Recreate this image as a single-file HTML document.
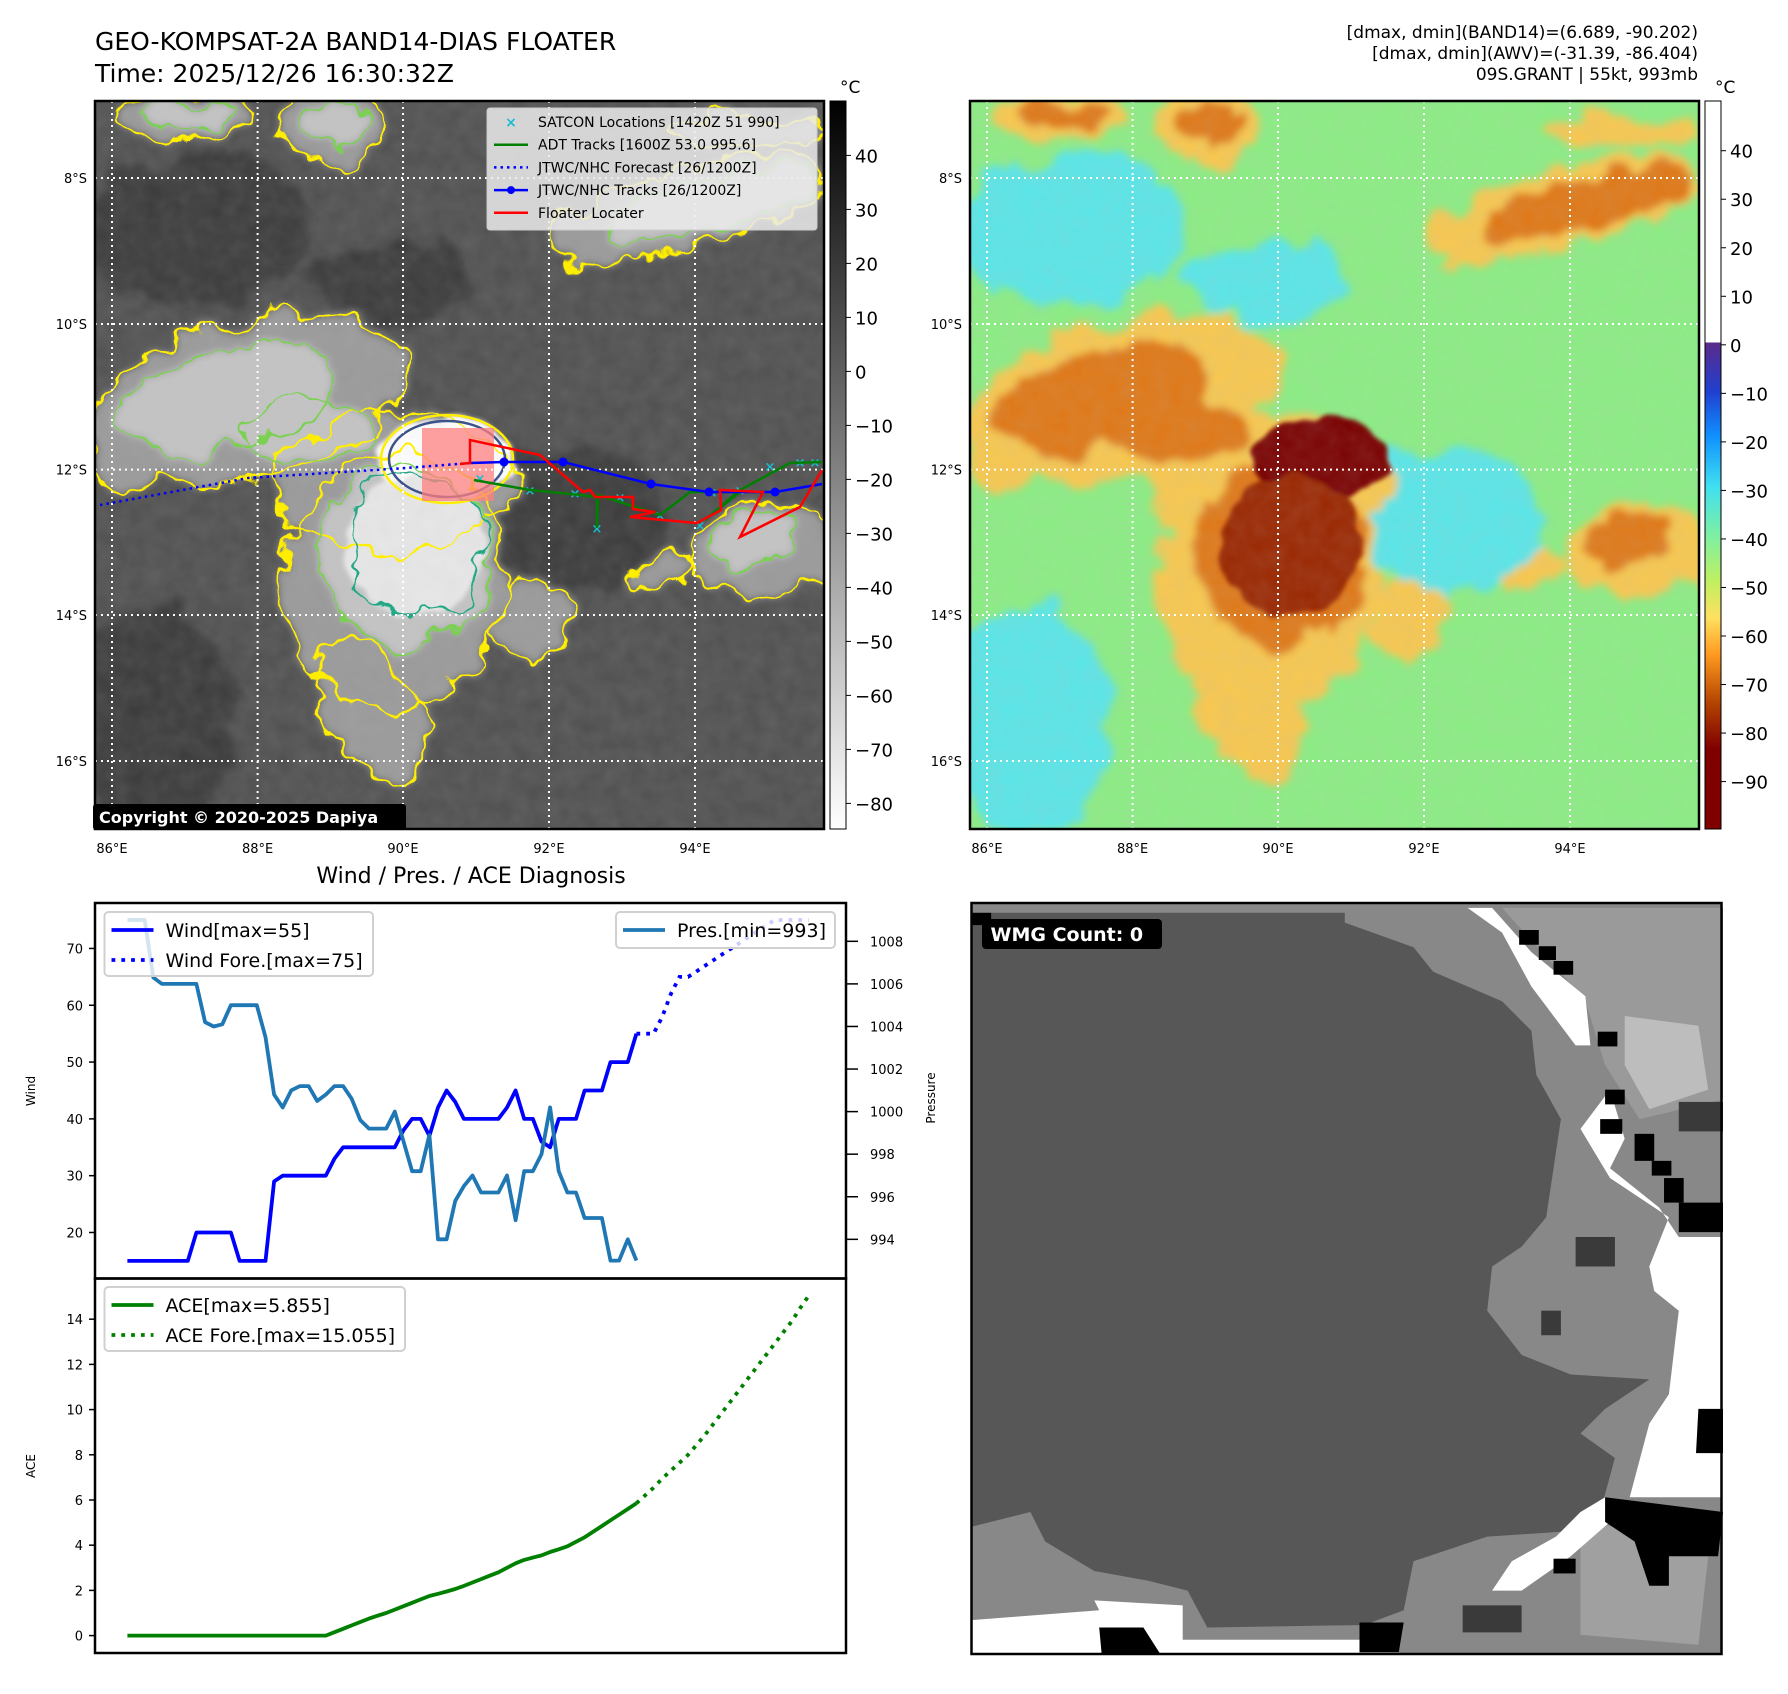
<!DOCTYPE html>
<html><head><meta charset="utf-8">
<style>
html,body{margin:0;padding:0;background:#fff;}
body{width:1788px;height:1690px;position:relative;overflow:hidden;font-family:"DejaVu Sans","Liberation Sans",sans-serif;}
svg text{font-family:"DejaVu Sans","Liberation Sans",sans-serif;}
</style></head>
<body>
<svg id="root" width="1788" height="1690" viewBox="0 0 1788 1690" xmlns="http://www.w3.org/2000/svg">
<defs>
 <linearGradient id="gGray" x1="0" y1="0" x2="0" y2="1">
  <stop offset="0" stop-color="#000"/><stop offset="1" stop-color="#fff"/>
 </linearGradient>
 <linearGradient id="gColor" x1="0" y1="0" x2="0" y2="1">
  <stop offset="0" stop-color="#fff"/><stop offset="0.3316" stop-color="#fff"/>
  <stop offset="0.3317" stop-color="#5a2a8a"/><stop offset="0.40" stop-color="#2040d0"/>
  <stop offset="0.46" stop-color="#1090ff"/><stop offset="0.53" stop-color="#40e0f0"/>
  <stop offset="0.60" stop-color="#80f0a0"/><stop offset="0.66" stop-color="#c0f060"/>
  <stop offset="0.71" stop-color="#ffe060"/><stop offset="0.76" stop-color="#ff9a20"/>
  <stop offset="0.83" stop-color="#b04000"/><stop offset="0.89" stop-color="#800000"/>
  <stop offset="1" stop-color="#800000"/>
 </linearGradient>
 <filter id="soft" x="-20%" y="-20%" width="140%" height="140%">
  <feTurbulence type="fractalNoise" baseFrequency="0.025" numOctaves="3" seed="5" result="n"/>
  <feDisplacementMap in="SourceGraphic" in2="n" scale="45" xChannelSelector="R" yChannelSelector="G" result="d"/>
  <feGaussianBlur in="d" stdDeviation="4"/>
 </filter>
 <filter id="soft2" x="-20%" y="-20%" width="140%" height="140%">
  <feTurbulence type="fractalNoise" baseFrequency="0.03" numOctaves="2" seed="8" result="n"/>
  <feDisplacementMap in="SourceGraphic" in2="n" scale="25" xChannelSelector="R" yChannelSelector="G" result="d"/>
  <feGaussianBlur in="d" stdDeviation="2"/>
 </filter>
 <filter id="warp" x="-20%" y="-20%" width="140%" height="140%">
  <feTurbulence type="fractalNoise" baseFrequency="0.025" numOctaves="3" seed="5" result="n"/>
  <feDisplacementMap in="SourceGraphic" in2="n" scale="45" xChannelSelector="R" yChannelSelector="G"/>
 </filter>
 <filter id="grain"><feTurbulence type="fractalNoise" baseFrequency="0.06" numOctaves="2" seed="3"/><feColorMatrix type="matrix" values="0 0 0 0 0.5  0 0 0 0 0.5  0 0 0 0 0.5  0 0 0 0.3 0"/></filter>
 <clipPath id="clipL"><rect x="0" y="0" width="729" height="728"/></clipPath>
</defs>

<text x="95" y="50" font-size="25">GEO-KOMPSAT-2A BAND14-DIAS FLOATER</text>
<text x="95" y="82" font-size="25">Time: 2025/12/26 16:30:32Z</text>
<text x="1698" y="38" font-size="17" text-anchor="end">[dmax, dmin](BAND14)=(6.689, -90.202)</text>
<text x="1698" y="59" font-size="17" text-anchor="end">[dmax, dmin](AWV)=(-31.39, -86.404)</text>
<text x="1698" y="80" font-size="17" text-anchor="end">09S.GRANT | 55kt, 993mb</text>

<g id="mapL" transform="translate(95,101)"></g>
<g id="mapR" transform="translate(970,101)"></g>

<g>
 <rect x="830" y="101" width="16" height="728" fill="url(#gGray)" stroke="#000" stroke-width="1"/>
 <text x="840" y="93" font-size="17">°C</text>
 <g id="cbL"></g>
</g>
<g>
 <rect x="1705" y="101" width="16" height="728" fill="url(#gColor)" stroke="#000" stroke-width="1"/>
 <text x="1715" y="93" font-size="17">°C</text>
 <g id="cbR"></g>
</g>

<text x="471" y="883" font-size="22" text-anchor="middle">Wind / Pres. / ACE Diagnosis</text>
<g id="chart"></g>

<g id="wmg" transform="translate(971.5,903)"></g>
</svg>

<script>
// ===== chart data =====
const windObs = [15,15,15,15,15,15,15,15,20,20,20,20,20,15,15,15,15,29,30,30,30,30,30,30,33,35,35,35,35,35,35,35,38,40,40,37,42,45,43,40,40,40,40,40,42,45,40,40,36,35,40,40,40,45,45,45,50,50,50,55];
const windFore = [55,55,55,58,62,65,65,66,67,68,69,70,71,72,73,74,75,75,75,75,75];
const presObs = [1009,1009,1009,1006.3,1006,1006,1006,1006,1006,1004.2,1004,1004.1,1005,1005,1005,1005,1003.5,1000.8,1000.2,1001,1001.2,1001.2,1000.5,1000.8,1001.2,1001.2,1000.6,999.6,999.2,999.2,999.2,1000,998.6,997.2,997.2,998.9,994,994,995.8,996.5,997,996.2,996.2,996.2,997,994.9,997.2,997.2,998,1000.2,997.2,996.2,996.2,995,995,995,993,993,994,993];
const aceObs = [0,0,0,0,0,0,0,0,0,0,0,0,0,0,0,0,0,0,0,0,0,0,0,0,0.15,0.3,0.45,0.6,0.75,0.88,1.0,1.15,1.3,1.45,1.6,1.75,1.85,1.95,2.06,2.2,2.35,2.5,2.65,2.8,3.0,3.2,3.35,3.45,3.55,3.7,3.82,3.95,4.15,4.35,4.6,4.85,5.1,5.35,5.6,5.855];
const aceFore = [5.855,6.2,6.55,6.95,7.3,7.65,8.0,8.45,8.9,9.4,9.9,10.4,10.9,11.4,11.9,12.4,12.9,13.4,13.9,14.5,15.05];
const windTicks = [20,30,40,50,60,70];
const presTicks = [994,996,998,1000,1002,1004,1006,1008];
const aceTicks = [0,2,4,6,8,10,12,14];
const grayCbTicks = [40,30,20,10,0,-10,-20,-30,-40,-50,-60,-70,-80];
const colorCbTicks = [40,30,20,10,0,-10,-20,-30,-40,-50,-60,-70,-80,-90];
const lonLabels = ["86°E","88°E","90°E","92°E","94°E"];
const latLabels = ["8°S","10°S","12°S","14°S","16°S"];

const NS="http://www.w3.org/2000/svg";
function mk(tag, attrs, parent){const e=document.createElementNS(NS,tag);for(const k in attrs)e.setAttribute(k,attrs[k]);if(parent)parent.appendChild(e);return e;}
const minus = v => (v<0? "\u2212"+Math.abs(v) : ""+v);

const X0=95,X1=846,T=903,MID=1278.5,B=1653;
const xs = i => X0 + (i+3.76)*(X1-X0)/(83.3+3.76);
const yWind = v => T + (78.0 - v)/(78.0-11.9)*(MID-T);
const yPres = v => T + (1009.8 - v)/(1009.8-992.16)*(MID-T);
const yAce = v => MID + (15.8 - v)/(15.8+0.77)*(B-MID);

const chart=document.getElementById('chart');
function poly(arr, off, yf){return arr.map((v,k)=>xs(k+off).toFixed(1)+","+yf(v).toFixed(1)).join(" ");}

let e;
e=mk('polyline',{points:poly(windObs,0,yWind),fill:'none',stroke:'#0000ff','stroke-width':3.8,'stroke-linejoin':'round'},chart);


e=mk('polyline',{points:poly(windFore,59,yWind),fill:'none',stroke:'#0000ff','stroke-width':3.8,'stroke-dasharray':'3.8 6'},chart);


e=mk('polyline',{points:poly(presObs,0,yPres),fill:'none',stroke:'#1f77b4','stroke-width':3.8,'stroke-linejoin':'round'},chart);


e=mk('polyline',{points:poly(aceObs,0,yAce),fill:'none',stroke:'#008000','stroke-width':3.8,'stroke-linejoin':'round'},chart);


e=mk('polyline',{points:poly(aceFore,59,yAce),fill:'none',stroke:'#008000','stroke-width':3.8,'stroke-dasharray':'3.8 6'},chart);



mk('rect',{x:X0,y:T,width:X1-X0,height:MID-T,fill:'none',stroke:'#000','stroke-width':2.5},chart);
mk('rect',{x:X0,y:MID,width:X1-X0,height:B-MID,fill:'none',stroke:'#000','stroke-width':2.5},chart);
windTicks.forEach(v=>{const y=yWind(v);mk('line',{x1:X0-6,x2:X0,y1:y,y2:y,stroke:'#000','stroke-width':1.5},chart);
 const t=mk('text',{x:X0-12,y:y+5,'font-size':13,'text-anchor':'end'},chart);t.textContent=v;});
presTicks.forEach(v=>{const y=yPres(v);mk('line',{x1:X1,x2:X1+12,y1:y,y2:y,stroke:'#000','stroke-width':1.5},chart);
 const t=mk('text',{x:X1+24,y:y+5,'font-size':13},chart);t.textContent=v;});
aceTicks.forEach(v=>{const y=yAce(v);mk('line',{x1:X0-6,x2:X0,y1:y,y2:y,stroke:'#000','stroke-width':1.5},chart);
 const t=mk('text',{x:X0-12,y:y+5,'font-size':13,'text-anchor':'end'},chart);t.textContent=v;});
let t;
t=mk('text',{x:35,y:1091,'font-size':12,'text-anchor':'middle',transform:'rotate(-90 35 1091)'},chart);t.textContent='Wind';


t=mk('text',{x:935,y:1098,'font-size':12,'text-anchor':'middle',transform:'rotate(-90 935 1098)'},chart);t.textContent='Pressure';


t=mk('text',{x:35,y:1466,'font-size':12,'text-anchor':'middle',transform:'rotate(-90 35 1466)'},chart);t.textContent='ACE';



function legend(x,y,w,h,items,name){
 const g=mk('g',{},chart);
 
 
 mk('rect',{x:x,y:y,width:w,height:h,rx:4,fill:'rgba(255,255,255,0.8)',stroke:'#d0d0d0','stroke-width':2},g);
 items.forEach((it,k)=>{const cy=y+18+k*30;
  mk('line',{x1:x+7,x2:x+49,y1:cy,y2:cy,stroke:it.c,'stroke-width':3.8,'stroke-dasharray':it.d?'3.8 6':'none'},g);
  const tt=mk('text',{x:x+61,y:cy+7,'font-size':19},g);tt.textContent=it.t;});
}
legend(104.5,912,268.5,64,[{c:'#0000ff',t:'Wind[max=55]'},{c:'#0000ff',t:'Wind Fore.[max=75]',d:1}],'wind-legend');
legend(616,912,219,36,[{c:'#1f77b4',t:'Pres.[min=993]'}],'pressure-legend');
legend(104.5,1287,300.5,64,[{c:'#008000',t:'ACE[max=5.855]'},{c:'#008000',t:'ACE Fore.[max=15.055]',d:1}],'ace-legend');

const cbL=document.getElementById('cbL');
grayCbTicks.forEach(v=>{const y=155.4+(40-v)*5.4;mk('line',{x1:846,x2:851,y1:y,y2:y,stroke:'#000'},cbL);
 const tt=mk('text',{x:855,y:y+7,'font-size':18},cbL);tt.textContent=minus(v);});
const cbR=document.getElementById('cbR');
colorCbTicks.forEach(v=>{const y=150.7+(40-v)*4.853;mk('line',{x1:1721,x2:1726,y1:y,y2:y,stroke:'#000'},cbR);
 const tt=mk('text',{x:1730,y:y+7,'font-size':18},cbR);tt.textContent=minus(v);});

// ===== maps =====
const gridX=[17,162.6,308,454,600], gridY=[77,223,368.6,514,660];
const cyanF=[[100,130,120,75,0],[480,420,95,75,0],[60,620,85,115,0],[300,180,80,40,0]];
const lvl1=[[150,300,165,80,-15],[300,380,120,70,0],[300,480,110,130,10],[280,610,45,80,-25],[440,520,35,42,0],[665,450,72,45,0],[566,470,30,22,0],[590,110,140,40,-15],[95,15,62,25,0],[235,25,52,38,0],[650,30,80,18,0]];
const lvl2=[[130,300,110,50,-15],[310,455,88,88,0],[660,440,45,28,0],[615,105,110,26,-15],[95,14,42,15,0],[240,20,30,20,0],[215,330,60,30,0]];
const lvl3=[[350,358,68,42,0],[322,445,70,70,0]];

function ell(g,f,attrs){const [cx,cy,rx,ry,r]=f;return mk('ellipse',Object.assign({cx:cx,cy:cy,rx:rx,ry:ry,transform:`rotate(${r} ${cx} ${cy})`},attrs),g);}

function buildMap(id, pal, isLeft){
 const root=document.getElementById(id);
 const g=mk('g',{'clip-path':'url(#clipL)'},root);
 mk('rect',{x:0,y:0,width:729,height:728,fill:pal.bg},g);
 const blur=mk('g',{filter:'url(#soft)'},g);
 cyanF.forEach(f=>ell(blur,f,{fill:pal.c0}));
 lvl1.forEach(f=>ell(blur,f,{fill:pal.c1}));
 lvl2.forEach(f=>ell(blur,f,{fill:pal.c2}));
 const b2=mk('g',{filter:'url(#soft2)'},g);
 lvl3.forEach((f,k)=>ell(b2,f,{fill:k==0?pal.c3:pal.c3b}));
 mk('rect',{x:0,y:0,width:729,height:728,filter:'url(#grain)',opacity:0.55},g);
 if(isLeft){
  const cg=mk('g',{filter:'url(#warp)'},g);
  lvl1.forEach(f=>ell(cg,f,{fill:'none',stroke:'#ffee00','stroke-width':2.5}));
  lvl2.forEach(f=>ell(cg,f,{fill:'none',stroke:'#7ad151','stroke-width':2}));
  ell(cg,lvl3[1],{fill:'none',stroke:'#22a884','stroke-width':2});
  ell(g,[352,358,58,38,0],{fill:'none',stroke:'#3b528b','stroke-width':2.5});
  ell(g,[352,358,66,44,0],{fill:'none',stroke:'#ffee00','stroke-width':2.5});
  mk('rect',{x:327,y:327,width:72,height:73,fill:'#ff8080',opacity:0.75},g);
 }
 gridX.forEach(x=>mk('line',{x1:x,x2:x,y1:0,y2:728,stroke:'#fff','stroke-width':2,'stroke-dasharray':'2 4'},g));
 gridY.forEach(y=>mk('line',{x1:0,x2:729,y1:y,y2:y,stroke:'#fff','stroke-width':2,'stroke-dasharray':'2 4'},g));
 mk('rect',{x:0,y:0,width:729,height:728,fill:'none',stroke:'#000','stroke-width':2.5},root);
 lonLabels.forEach((s,k)=>{const tt=mk('text',{x:gridX[k],y:752,'font-size':13,'text-anchor':'middle'},root);tt.textContent=s;});
 latLabels.forEach((s,k)=>{const tt=mk('text',{x:-8,y:gridY[k]+5,'font-size':13,'text-anchor':'end'},root);tt.textContent=s;});
 return root;
}
buildMap('mapL',{bg:'#505050',c0:'#3a3a3a',c1:'#9a9a9a',c2:'#c4c4c4',c3:'#ffffff',c3b:'#e8e8e8'},true);
buildMap('mapR',{bg:'#8cee84',c0:'#5ae6e8',c1:'#f8c850',c2:'#e07818',c3:'#7a0000',c3b:'#9a2800'},false);

const mL=document.getElementById('mapL');
const tg=mk('g',{transform:'translate(-95,-101)'},mL);


const sat=[[480,478],[530,490],[575,493],[597,528],[660,515],[712,492],[740,490],[770,466],[800,462],[815,462],[700,525],[620,497]];
sat.forEach(p=>{const tx=mk('text',{x:p[0],y:p[1]+5,'font-size':13,'text-anchor':'middle',fill:'#17becf','font-weight':'bold'},tg);tx.textContent='×';});
mk('polyline',{points:'474,480 530,490 580,495 597,497 597,528 598,495 660,515 690,492 740,492 705,520 740,490 790,463 822,462',fill:'none',stroke:'#008000','stroke-width':2.5},tg);
mk('polyline',{points:'100,505 248,478 406,468 470,463',fill:'none',stroke:'#0000ff','stroke-width':2.5,'stroke-dasharray':'2.5 4'},tg);
mk('polyline',{points:'470,463 504,462 563,462 651,484 709,492 775,492 822,484',fill:'none',stroke:'#0000ff','stroke-width':2.5},tg);
[[504,462],[563,462],[651,484],[709,492],[775,492]].forEach(p=>mk('circle',{cx:p[0],cy:p[1],r:4.5,fill:'#0000ff'},tg));
mk('polyline',{points:'460,464 470,463 470,440 540,455 583,492 590,490 595,497 633,497 633,509 655,512 630,517 697,523 721,510 720,490 763,492 740,537 800,507 822,470',fill:'none',stroke:'#ff0000','stroke-width':2.5},tg);

const lg=mk('g',{},tg);


mk('rect',{x:487,y:108,width:330,height:122,rx:3,fill:'rgba(235,235,235,0.85)',stroke:'#ccc'},lg);
const li=[['sat','SATCON Locations [1420Z 51 990]'],['#008000','ADT Tracks [1600Z 53.0 995.6]'],['dot','JTWC/NHC Forecast [26/1200Z]'],['blue','JTWC/NHC Tracks [26/1200Z]'],['#ff0000','Floater Locater']];
li.forEach((it,k)=>{const cy=122+k*22.7;
 if(it[0]==='sat'){const s=mk('text',{x:511,y:cy+5,'font-size':14,'text-anchor':'middle',fill:'#17becf','font-weight':'bold'},lg);s.textContent='×';}
 else if(it[0]==='dot'){mk('line',{x1:494,x2:528,y1:cy,y2:cy,stroke:'#0000ff','stroke-width':2.5,'stroke-dasharray':'2.5 4'},lg);}
 else if(it[0]==='blue'){mk('line',{x1:494,x2:528,y1:cy,y2:cy,stroke:'#0000ff','stroke-width':2.5},lg);mk('circle',{cx:511,cy:cy,r:4,fill:'#0000ff'},lg);}
 else mk('line',{x1:494,x2:528,y1:cy,y2:cy,stroke:it[0],'stroke-width':2.5},lg);
 const tt=mk('text',{x:538,y:cy+5,'font-size':14},lg);tt.textContent=it[1];});
const cp=mk('g',{},tg);


mk('rect',{x:93,y:804,width:313,height:26,rx:3,fill:'#000'},cp);
const ct=mk('text',{x:99,y:823,'font-size':16,'font-weight':'bold',fill:'#fff'},cp);ct.textContent='Copyright © 2020-2025 Dapiya';

// ===== WMG panel =====
const W=document.getElementById('wmg');
const s=1/2.036;
function P(pts){return pts.map(p=>(p[0]*s).toFixed(1)+","+(p[1]*s).toFixed(1)).join(" ");}
mk('rect',{x:0,y:0,width:750,height:751,fill:'#888'},W);
mk('polygon',{points:P([[1080,10],[1530,10],[1530,400],[1360,440],[1290,330],[1250,200],[1180,120]]),fill:'#9a9a9a'},W);
mk('polygon',{points:P([[1330,230],[1480,250],[1500,380],[1380,420],[1330,330]]),fill:'#bdbdbd'},W);
mk('polygon',{points:P([[1240,1250],[1500,1330],[1480,1510],[1240,1490]]),fill:'#a0a0a0'},W);
mk('polygon',{points:P([[0,20],[760,20],[760,40],[900,90],[940,140],[1080,200],[1140,260],[1150,350],[1200,440],[1170,640],[1120,700],[1060,740],[1050,830],[1120,920],[1220,960],[1380,970],[1290,1030],[1240,1080],[1310,1130],[1280,1240],[1200,1280],[1050,1290],[900,1340],[880,1440],[800,1470],[480,1475],[440,1400],[360,1380],[250,1360],[150,1300],[120,1240],[0,1270]]),fill:'#575757'},W);
mk('polygon',{points:P([[1240,460],[1300,380],[1330,480],[1300,540],[1400,620],[1440,680],[1530,680],[1530,1210],[1340,1210],[1380,1060],[1420,1000],[1440,830],[1390,790],[1380,740],[1420,640],[1300,560]]),fill:'#fff'},W);
mk('polygon',{points:P([[1010,10],[1060,10],[1140,100],[1250,190],[1260,290],[1230,290],[1140,170],[1080,60]]),fill:'#fff'},W);
mk('polygon',{points:P([[0,1460],[260,1440],[250,1420],[430,1430],[430,1500],[790,1500],[790,1535],[0,1535]]),fill:'#fff'},W);
mk('polygon',{points:P([[1190,1290],[1240,1240],[1290,1210],[1300,1260],[1220,1330],[1120,1400],[1060,1400],[1100,1340]]),fill:'#fff'},W);
[[[1290,1210],[1530,1240],[1520,1330],[1420,1330],[1420,1390],[1380,1390],[1350,1300],[1290,1260]],
 [[1480,1030],[1530,1030],[1530,1120],[1475,1120]],[[1440,610],[1530,610],[1530,670],[1440,670]],
 [[260,1475],[350,1475],[385,1530],[265,1530]],[[790,1465],[880,1465],[870,1525],[790,1525]]].forEach(p=>mk('polygon',{points:P(p),fill:'#000'},W));
[[1115,55,40,30],[1155,88,35,28],[1185,118,40,28],[1275,262,40,30],[1290,380,40,30],[1280,440,45,30],[1350,470,40,55],[1385,525,40,30],[1410,560,40,50],[1185,1335,45,30],[0,20,40,25]].forEach(r=>mk('rect',{x:r[0]*s,y:r[1]*s,width:r[2]*s,height:r[3]*s,fill:'#000'},W));
[[1440,405,90,60],[1000,1430,120,55],[1230,680,80,60],[1160,830,40,50]].forEach(r=>mk('rect',{x:r[0]*s,y:r[1]*s,width:r[2]*s,height:r[3]*s,fill:'#3a3a3a'},W));
mk('rect',{x:0,y:0,width:750,height:751,fill:'none',stroke:'#000','stroke-width':2.5},W);
const wb=mk('g',{},W);


mk('rect',{x:10.5,y:16,width:180,height:30,rx:4,fill:'#000'},wb);
const wt=mk('text',{x:19,y:38,'font-size':19,'font-weight':'bold',fill:'#fff'},wb);wt.textContent='WMG Count: 0';
</script>
</body></html>
